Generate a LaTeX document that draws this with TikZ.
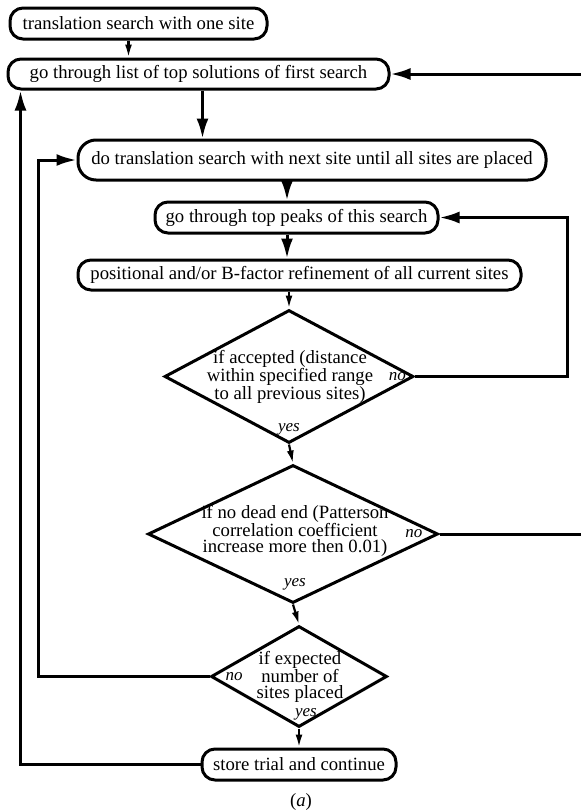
\documentclass[tikz,border=0pt]{standalone}
\usepackage{fontspec}
\setmainfont{Liberation Serif}
\usetikzlibrary{arrows.meta}
\usetikzlibrary{shapes}
\usetikzlibrary{positioning}
\tikzset{
  every node/.style={font=\fontsize{18.7}{16.2}\selectfont},
  stepbox/.style={draw, line width=3pt, rounded corners=13pt,
    minimum height=31pt, inner sep=0},
  decision/.style={draw, diamond, line width=3pt, inner sep=0},
  decisiontext/.style={align=center, inner sep=0},
  answer/.style={font=\fontsize{17}{17}\selectfont\itshape, inner sep=0},
  arrow/.style={-{Latex[length=20pt,width=12pt]}, line width=3pt},
  smallarrow/.style={-{Latex[length=13pt,width=7pt]}, line width=2.2pt}
}

\begin{document}
\begin{tikzpicture}[x=1pt,y=-1pt]
  \useasboundingbox (0,0) rectangle (581,812);

  % boxes
  \node[stepbox, minimum width=257pt] (start) at (138.5,23.5) {translation search with one site};
  \node[stepbox, minimum width=381pt, minimum height=30pt] (list) at (198.5,74) {go through list of top solutions of first search};
  \node[stepbox, minimum width=468pt, minimum height=40pt, rounded corners=18pt] (next) at (312,160) {do translation search with next site until all sites are placed};
  \node[stepbox, minimum width=283pt] (peaks) at (296.5,217.5) {go through top peaks of this search};
  \node[stepbox, minimum width=443pt, minimum height=30pt] (refine) at (299.5,275) {positional and/or B-factor refinement of all current sites};

  % decisions
  \node[decision, minimum width=249pt, minimum height=133pt] (accept) at (289,376.5) {};
  \node[decisiontext] (acceptText) at (290,377) {if accepted (distance\\within specified range\\to all previous sites)};
  \node[decision, minimum width=290pt, minimum height=138pt] (deadend) at (293,534) {};
  \node[decisiontext] (deadendText) at (295,531) {if no dead end (Patterson\\correlation coefficient\\increase more then 0.01)};
  \node[decision, minimum width=176pt, minimum height=101pt] (placed) at (299,676.5) {};
  \node[decisiontext] (placedText) at (300,677) {if expected\\number of\\sites placed};

  \node[stepbox, minimum width=194pt] (store) at (299,764.5) {store trial and continue};

  % yes / no
  \node[answer, left=9pt of accept.east] (acceptNo) {no};
  \node[answer, above=9pt of accept.south] (acceptYes) {yes};
  \node[answer, left=17pt of deadend.east] (deadendNo) {no};
  \node[answer, above=14pt of deadend.south, xshift=2pt] (deadendYes) {yes};
  \node[answer, right=16pt of placed.west] (placedNo) {no};
  \node[answer, above=8pt of placed.south, xshift=7pt] (placedYes) {yes};

  \node (caption) at (301,802) {(\textit{a})};

  % straight arrows
  \draw[smallarrow] ([xshift=-10pt]start.south) -- ([xshift=-10pt]start.south |- list.north);
  \draw[arrow] ([xshift=4pt]list.south) -- ([xshift=4pt]list.south |- next.north);
  \draw[arrow] ([xshift=-25pt]next.south) -- ([xshift=-25pt]next.south |- peaks.north);
  \draw[arrow] ([xshift=-9.5pt]peaks.south) -- ([xshift=-9.5pt]peaks.south |- refine.north);
  \draw[smallarrow] ([xshift=-10.5pt]refine.south) -- (accept.north);
  \draw[smallarrow] (accept.south) -- (deadend.north);
  \draw[smallarrow] (deadend.south) -- (placed.north);
  \draw[smallarrow] (placed.south) -- (store.north);

  % loops
  \draw[arrow] (accept.east) -| ([xshift=128pt]peaks.east) -- (peaks.east);
  \draw[arrow] (deadend.east) -| ([xshift=197pt]list.east) -- (list.east);
  \draw[arrow] (placed.west) -| ([xshift=-38pt]next.west) -- (next.west);
  \draw[arrow] (store.west) -| ([xshift=14pt]list.south west);
\end{tikzpicture}
\end{document}
